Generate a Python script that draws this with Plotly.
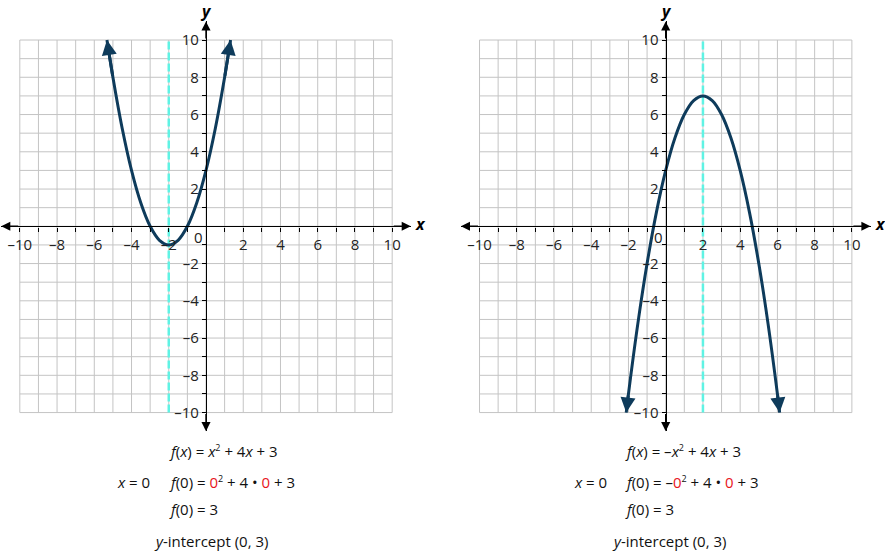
import plotly.graph_objects as go

# ---------------- data ----------------
grid_vals = list(range(-10, 11))
tick_vals = [v for v in range(-10, 11) if v != 0]
tick_text = [(("–" + str(-v)) if v < 0 else str(v)) if v % 2 == 0 else "" for v in tick_vals]

# points (f(x) = x^2 + 4x + 3)
left_x = [-5.32, -5, -4.5, -4, -3.5, -3, -2.5, -2, -1.5, -1, -0.5, 0, 0.5, 1, 1.32]
left_y = [10, 8, 5.25, 3, 1.25, 0, -0.75, -1, -0.75, 0, 1.25, 3, 5.25, 8, 10]
# points (f(x) = -x^2 + 4x + 3)
right_x = [-2.12, -2, -1.5, -1, -0.5, 0, 0.5, 1, 1.5, 2, 2.5, 3, 3.5, 4, 4.5, 5, 5.5, 6, 6.12]
right_y = [-10, -9, -5.25, -2, 0.75, 3, 4.75, 6, 6.75, 7, 6.75, 6, 4.75, 3, 0.75, -2, -5.25, -9, -10]

left_sym_x = -2
right_sym_x = 2

SQ = "<sup><span style='font-size:9px'>2</span></sup>"
RED0 = "<span style='color:#e8141b'>0</span>"
left_text = [
    "<i>f</i>(<i>x</i>) = <i>x</i>" + SQ + " + 4<i>x</i> + 3",
    "<i>f</i>(0) = " + RED0 + SQ + " + 4 • " + RED0 + " + 3",
    "<i>f</i>(0) = 3",
]
right_text = [
    "<i>f</i>(<i>x</i>) = –<i>x</i>" + SQ + " + 4<i>x</i> + 3",
    "<i>f</i>(0) = –" + RED0 + SQ + " + 4 • " + RED0 + " + 3",
    "<i>f</i>(0) = 3",
]
x_eq_text = "<i>x</i> = 0"
intercept_text = "<i>y</i>-intercept (0, 3)"

# ---------------- styles ----------------
FONT = "Open Sans"
CURVE = "#0e3b5b"
GRID = "#c4c4c4"
DASH = "#5ff3e4"
W, H = 885, 552

X_DOMS = [[1.2 / W, 410.8 / W], [460.9 / W, 870.5 / W]]
Y_DOM = [1 - 431.2 / H, 1 - 21.4 / H]
Y_POS = (Y_DOM[0] + Y_DOM[1]) / 2

fig = go.Figure()

gx, gy = [], []
for v in grid_vals:
    gx += [v, v, None, -10, 10, None]
    gy += [-10, 10, None, v, v, None]

panels = [
    ("x", "y", left_x, left_y, left_sym_x),
    ("x2", "y2", right_x, right_y, right_sym_x),
]

annotations = []
for i, (xa, ya, cx, cy, sx) in enumerate(panels):
    fig.add_trace(go.Scatter(x=gx, y=gy, mode="lines", line=dict(color=GRID, width=1),
                             hoverinfo="skip", showlegend=False, xaxis=xa, yaxis=ya))
    fig.add_trace(go.Scatter(x=[sx, sx], y=[-10, 10], mode="lines",
                             line=dict(color=DASH, width=2.5, dash="8px,3px"),
                             hoverinfo="skip", showlegend=False, xaxis=xa, yaxis=ya))
    fig.add_trace(go.Scatter(x=cx, y=cy, mode="lines", line=dict(color=CURVE, width=3, shape="spline", smoothing=1.0),
                             hoverinfo="skip", showlegend=False, xaxis=xa, yaxis=ya))
    # curve arrowheads
    for (tx, ty, fx, fy) in [(cx[-1], cy[-1], cx[-2], cy[-2]), (cx[0], cy[0], cx[1], cy[1])]:
        annotations.append(dict(x=tx, y=ty, ax=fx, ay=fy, xref=xa, yref=ya, axref=xa, ayref=ya,
                                showarrow=True, arrowhead=2, arrowsize=1.0, arrowwidth=3,
                                arrowcolor=CURVE, text="", standoff=0))
    # axis arrowheads
    for (tx, ty, fx, fy) in [(11, 0, 10, 0), (-11, 0, -10, 0), (0, 11, 0, 10), (0, -11, 0, -10)]:
        annotations.append(dict(x=tx, y=ty, ax=fx, ay=fy, xref=xa, yref=ya, axref=xa, ayref=ya,
                                showarrow=True, arrowhead=2, arrowsize=1.3, arrowwidth=1.4,
                                arrowcolor="black", text="", standoff=0))
    # origin label
    annotations.append(dict(x=-0.38, y=-0.6, xref=xa, yref=ya, text="0", showarrow=False,
                            font=dict(family=FONT, size=15, color="#222")))

# axis letters
for px in [(420, 224), (880, 224)]:
    annotations.append(dict(x=px[0] / W, y=1 - px[1] / H, xref="paper", yref="paper", text="<b><i>x</i></b>",
                            xanchor="center", yanchor="middle",
                            showarrow=False, font=dict(family=FONT, size=16, color="black")))
for px in [(206, 11), (666, 11)]:
    annotations.append(dict(x=px[0] / W, y=1 - px[1] / H, xref="paper", yref="paper", text="<b><i>y</i></b>",
                            xanchor="center", yanchor="middle",
                            showarrow=False, font=dict(family=FONT, size=16, color="black")))

# text blocks
def add_text(x, y, t, anchor="left"):
    annotations.append(dict(x=x / W, y=1 - y / H, xref="paper", yref="paper", text=t, showarrow=False,
                            xanchor=anchor, yanchor="middle", font=dict(family=FONT, size=15, color="#111")))

for base_x, xeq_x, int_x, lines in [(167, 115, 152, left_text), (623, 572, 610, right_text)]:
    add_text(base_x, 451, lines[0])
    add_text(xeq_x, 482, x_eq_text)
    add_text(base_x, 482, lines[1])
    add_text(base_x, 509, lines[2])
    add_text(int_x, 541, intercept_text)

axis_common = dict(range=[-11, 11], showgrid=False, zeroline=False, showline=True, linecolor="black",
                   linewidth=1.4, ticks="outside", ticklen=4, tickwidth=1, tickcolor="black",
                   tickvals=tick_vals, ticktext=tick_text,
                   tickfont=dict(family=FONT, size=15, color="#222"), fixedrange=True)

fig.update_layout(
    width=W, height=H, autosize=False,
    margin=dict(l=0, r=0, t=0, b=0),
    paper_bgcolor="white", plot_bgcolor="white",
    xaxis=dict(domain=X_DOMS[0], anchor="free", position=Y_POS, **axis_common),
    yaxis=dict(domain=Y_DOM, anchor="free", position=(X_DOMS[0][0] + X_DOMS[0][1]) / 2, **axis_common),
    xaxis2=dict(domain=X_DOMS[1], anchor="free", position=Y_POS, **axis_common),
    yaxis2=dict(domain=Y_DOM, anchor="free", position=(X_DOMS[1][0] + X_DOMS[1][1]) / 2, **axis_common),
    annotations=annotations,
    showlegend=False,
)

fig.write_html("out.html", config={"displayModeBar": False},
               post_script="document.body.style.margin='0';document.body.style.overflow='hidden';")
